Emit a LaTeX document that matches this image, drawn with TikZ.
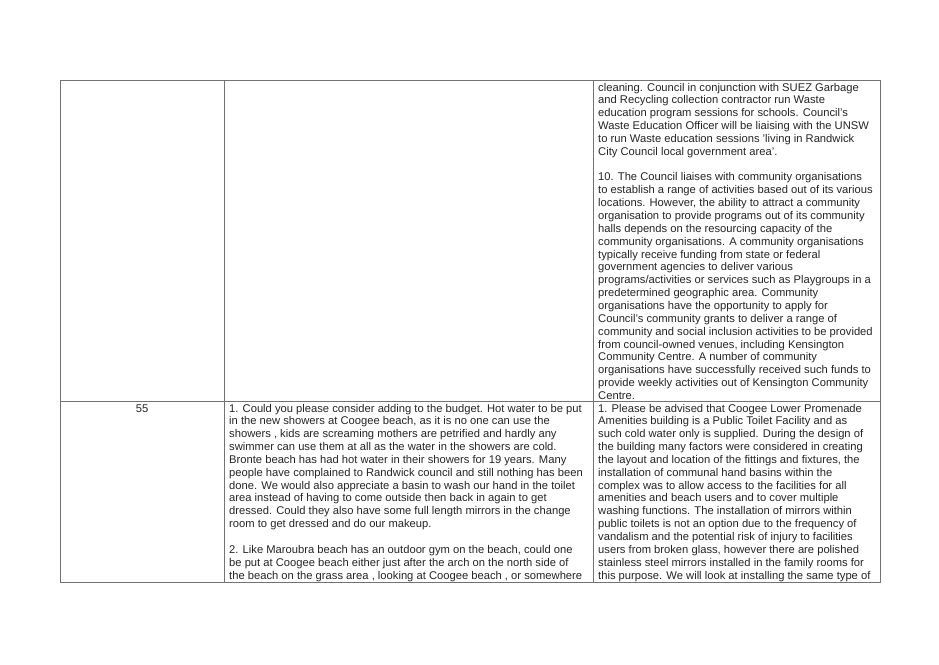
\documentclass[tikz,border=0pt]{standalone}
\usepackage{fontspec}
\setmainfont{Liberation Sans}
\begin{document}
\begin{tikzpicture}[x=1pt,y=-1pt,
  ln/.style={anchor=base west,inner sep=0pt,font=\fontsize{11.2}{12}\selectfont,text=black!85},
  grid/.style={draw=black!55,line width=0.6pt}]
\useasboundingbox (0,0) rectangle (939,664);
\fill[white] (0,0) rectangle (939,664);
\draw[grid] (60,80) rectangle (880,582);
\draw[grid] (60,401) -- (880,401);
\draw[grid] (224,80) -- (224,582);
\draw[grid] (593,80) -- (593,582);
\def\yA{91}
\foreach \t [count=\i from 0] in {
{cleaning.  Council in conjunction with SUEZ Garbage},
{and Recycling collection contractor run Waste},
{education program sessions for schools.   Council's},
{Waste Education Officer will be liaising with the UNSW},
{to run Waste education sessions 'living in Randwick},
{City Council local government area'.},
{},
{10.  The Council liaises with community organisations},
{to establish a range of activities based out of its various},
{locations. However, the ability to attract a community},
{organisation to provide programs out of its community},
{halls depends on the resourcing capacity of the},
{community organisations.  A community organisations},
{typically receive funding from state or federal},
{government agencies to deliver various},
{programs/activities or services such as Playgroups in a},
{predetermined geographic area.  Community},
{organisations have the opportunity to apply for},
{Council's community grants to deliver a range of},
{community and social inclusion activities to be provided},
{from council-owned venues, including Kensington},
{Community Centre.  A number of community},
{organisations have successfully received such funds to},
{provide weekly activities out of Kensington Community},
{Centre.}}
  \node[ln] (a\i) at (598,\yA+12.85*\i) {\t};
\node[anchor=base,inner sep=0pt,font=\fontsize{11.2}{12}\selectfont,text=black!85] (n55) at (142,412) {55};
\foreach \t [count=\i from 0] in {
{1. Could you please consider adding to the budget. Hot water to be put},
{in the new showers at Coogee beach, as it is no one can use the},
{showers , kids are screaming mothers are petrified and hardly any},
{swimmer can use them at all as the water in the showers are cold.},
{Bronte beach has had hot water in their showers for 19 years. Many},
{people have complained to Randwick council and still nothing has been},
{done. We would also appreciate a basin to wash our hand in the toilet},
{area instead of having to come outside then back in again to get},
{dressed. Could they also have some full length mirrors in the change},
{room to get dressed and do our makeup.},
{},
{2. Like Maroubra beach has an outdoor gym on the beach, could one},
{be put at Coogee beach either just after the arch on the north side of},
{the beach on the grass area , looking at Coogee beach , or somewhere}}
  \node[ln] (b\i) at (229,412+12.85*\i) {\t};
\foreach \t [count=\i from 0] in {
{1. Please be advised that Coogee Lower Promenade},
{Amenities building is a Public Toilet Facility and as},
{such cold water only is supplied. During the design of},
{the building many factors were considered in creating},
{the layout and location of the fittings and fixtures, the},
{installation of communal hand basins within the},
{complex was to allow access to the facilities for all},
{amenities and beach users and to cover multiple},
{washing functions. The installation of mirrors within},
{public toilets is not an option due to the frequency of},
{vandalism and the potential risk of injury to facilities},
{users from broken glass, however there are polished},
{stainless steel mirrors installed in the family rooms for},
{this purpose. We will look at installing the same type of}}
  \node[ln] (c\i) at (598,412+12.85*\i) {\t};
\end{tikzpicture}
\end{document}
